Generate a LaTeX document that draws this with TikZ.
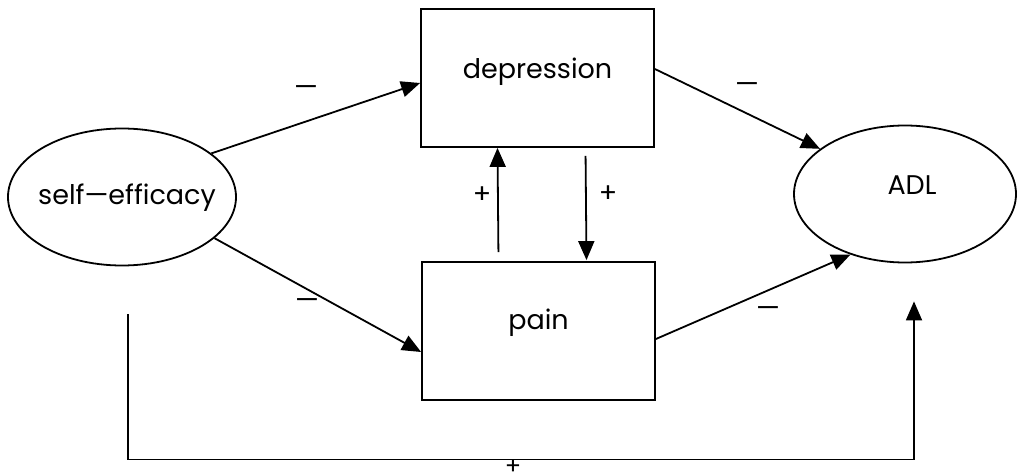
\documentclass[tikz,border=0pt]{standalone}
\usepackage{fontspec}
\setmainfont{Poppins}
\usetikzlibrary{arrows.meta,shapes.geometric,calc}
\begin{document}
\begin{tikzpicture}[x=1pt,y=-1pt,
  line width=1.8pt,
  txt/.style={font=\fontsize{27}{32}\selectfont, inner sep=0pt},
  box/.style={draw, minimum width=233pt, minimum height=138pt, inner sep=0pt},
  oval/.style={draw, ellipse, inner sep=0pt},
  arr/.style={-{Triangle[length=19pt,width=16pt]}},
  sign/.style={font=\fontsize{27}{32}\selectfont, inner sep=0pt}]
\useasboundingbox (0,0) rectangle (1018,476);

% nodes
\node[oval, minimum width=228pt, minimum height=137pt] (se) at (122,197) {};
\node[txt] (setext) at (127,198) {self---efficacy};
\node[box] (dep) at (537.5,78) {};
\node[txt] (deptext) at (537.5,72) {depression};
\node[box] (pain) at (538.5,331) {};
\node[txt] (paintext) at (538.5,323) {pain};
\node[oval, minimum width=222pt, minimum height=137pt] (adl) at (905,194) {};
\node[txt] (adltext) at (912,185) {ADL};

% connectors
\draw[arr] (se.26) -- ([yshift=-5pt]dep.west);
\draw[arr] (se.-24) -- ([yshift=-21pt]pain.west);
\draw[arr] ([yshift=9pt]dep.east) -- (adl.152);
\draw[arr] ([yshift=-8pt]pain.east) -- (adl.228);
\draw[arr, shorten <=9pt] ([xshift=-40pt]pain.north) -- ([xshift=-40pt]dep.south);
\draw[arr, shorten <=8pt, shorten >=1pt] ([xshift=48pt]dep.south) -- ([xshift=48pt]pain.north);
\coordinate (fbstart) at ([xshift=6pt,yshift=-48pt]se.south);
\coordinate (fbend) at ([xshift=9pt,yshift=-38pt]adl.south);
\draw[arr] (fbstart) -- ++(0,145) -| (fbend);

% signs
\node[sign] (s1) at (306,91) {---};
\node[sign] (s2) at (307,304) {---};
\node[sign] (s3) at (747,88) {---};
\node[sign] (s4) at (768,312) {---};
\node[sign] (s5) at (482,195) {+};
\node[sign] (s6) at (608,194) {+};
\node[sign, font=\fontsize{24}{28}\selectfont, anchor=base] (s7) at (513,474) {+};
\end{tikzpicture}
\end{document}
